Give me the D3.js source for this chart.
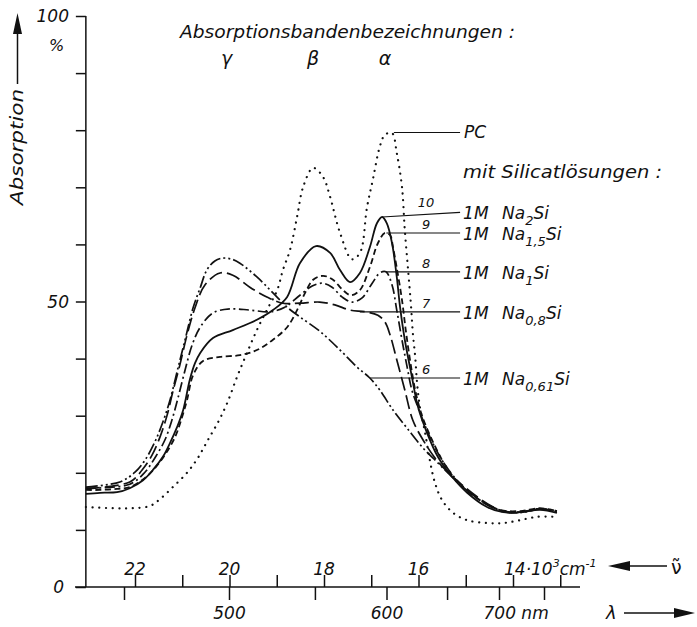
<!DOCTYPE html>
<html><head><meta charset="utf-8">
<script src="https://cdn.jsdelivr.net/npm/d3@7"></script>
<style>
html,body{margin:0;padding:0;background:#fff;}
svg{display:block;}
text{font-family:"DejaVu Sans",sans-serif;font-style:italic;fill:#111;}
</style></head><body>
<svg id="c" width="697" height="627"></svg>
<script>
// ---------- DATA (wavenumber in 10^3 cm^-1, absorption in %) ----------
const pcData = [[23.04,14.0],[22.47,13.8],[22.06,13.8],[21.68,14.2],[21.47,15.4],[21.20,17.5],[20.90,20.0],[20.67,22.6],[20.46,25.7],[20.24,28.9],[20.05,32.2],[19.84,36.8],[19.63,41.0],[19.42,45.0],[19.21,48.5],[18.99,52.0],[18.87,55.5],[18.72,59.0],[18.57,64.8],[18.44,70.1],[18.23,73.4],[18.02,71.8],[17.87,68.3],[17.66,62.0],[17.41,57.4],[17.24,58.5],[17.09,66.5],[16.96,71.6],[16.82,77.1],[16.71,79.2],[16.56,79.5],[16.46,76.0],[16.35,70.1],[16.29,62.5],[16.22,55.5],[16.16,49.4],[16.12,44.5],[16.07,40.3],[16.03,35.7],[15.97,31.5],[15.86,27.0],[15.76,22.2],[15.65,18.2],[15.50,15.2],[15.27,13.0],[14.97,11.7],[14.55,11.2],[14.21,11.2],[13.85,11.7],[13.49,12.3],[13.15,12.3]];
const na2Data = [[23.04,16.3],[22.74,16.5],[22.38,16.6],[22.11,17.3],[21.83,18.7],[21.62,20.5],[21.41,22.8],[21.26,25.2],[21.11,28.0],[20.98,31.0],[20.84,36.3],[20.73,39.2],[20.62,41.0],[20.35,43.6],[19.93,45.0],[19.42,46.8],[19.08,48.5],[18.78,50.8],[18.51,56.7],[18.17,59.7],[17.87,58.5],[17.66,55.5],[17.45,53.4],[17.24,55.0],[17.03,59.5],[16.88,63.7],[16.77,64.8],[16.67,63.7],[16.56,60.2],[16.46,54.3],[16.39,49.0],[16.29,43.3],[16.14,36.8],[16.01,31.5],[15.82,27.0],[15.59,22.8],[15.29,19.3],[14.97,16.5],[14.55,14.0],[14.21,13.1],[13.85,13.1],[13.43,13.5],[13.07,13.0]];
const na15Data = [[23.04,17.0],[22.74,17.0],[22.38,17.2],[22.11,17.5],[21.79,19.1],[21.58,20.8],[21.37,23.1],[21.15,26.3],[21.01,29.6],[20.90,32.7],[20.77,37.1],[20.56,39.6],[20.20,40.3],[19.78,40.6],[19.42,41.5],[19.08,43.3],[18.78,45.5],[18.57,48.5],[18.40,51.5],[18.23,53.8],[18.02,54.5],[17.81,53.8],[17.60,52.0],[17.43,51.1],[17.24,52.0],[17.03,56.0],[16.86,60.2],[16.71,62.0],[16.60,61.6],[16.54,59.5],[16.46,55.9],[16.35,50.3],[16.27,45.0],[16.18,39.8],[16.07,34.5],[15.93,30.1],[15.71,25.7],[15.44,21.4],[15.12,17.9],[14.70,15.2],[14.28,13.5],[13.85,13.3],[13.43,13.8],[13.07,13.3]];
const na1Data = [[23.04,17.3],[22.11,18.0],[21.79,20.1],[21.58,22.6],[21.37,25.7],[21.22,29.2],[21.09,33.1],[20.94,38.0],[20.79,42.4],[20.62,45.5],[20.35,48.0],[19.99,48.7],[19.57,48.5],[19.14,48.2],[18.83,49.0],[18.51,51.1],[18.25,52.7],[18.04,53.2],[17.83,52.5],[17.62,50.8],[17.41,49.9],[17.20,50.6],[16.98,53.2],[16.82,55.0],[16.69,55.2],[16.56,52.9],[16.46,48.5],[16.35,43.3],[16.24,38.5],[16.14,34.5],[15.97,30.6],[15.76,26.3],[15.50,22.2],[15.23,19.1],[14.91,16.5],[14.55,14.5],[14.21,13.3],[13.85,13.1],[13.43,13.7],[13.07,13.1]];
const na08Data = [[23.04,17.2],[22.11,18.4],[21.85,20.5],[21.64,23.1],[21.47,26.3],[21.32,30.1],[21.20,34.2],[21.05,38.9],[20.90,44.1],[20.73,48.9],[20.52,52.9],[20.20,55.0],[19.93,54.6],[19.57,52.5],[19.21,50.8],[18.87,49.7],[18.51,49.7],[18.09,49.9],[17.77,49.4],[17.45,48.5],[17.13,48.2],[16.86,47.6],[16.71,46.4],[16.60,44.1],[16.46,39.8],[16.29,34.5],[16.12,29.2],[15.90,25.7],[15.65,22.6],[15.38,20.1],[15.08,17.9],[14.76,15.8],[14.42,14.0],[14.13,13.1],[13.85,13.1],[13.43,13.7],[13.07,13.3]];
const na061Data = [[23.04,17.5],[22.32,18.4],[22.00,20.1],[21.79,22.2],[21.58,25.4],[21.41,28.9],[21.26,32.7],[21.11,37.7],[20.94,43.3],[20.77,48.9],[20.62,52.4],[20.48,55.5],[20.31,57.1],[20.14,57.6],[19.95,57.4],[19.78,56.7],[19.42,54.3],[19.08,51.5],[18.78,49.0],[18.51,47.3],[18.09,44.8],[17.66,41.5],[17.30,38.5],[17.03,36.6],[16.82,34.5],[16.54,31.0],[16.24,27.8],[15.90,24.3],[15.61,21.9],[15.33,19.6],[15.06,17.5],[14.70,15.2],[14.34,13.5],[14.06,13.0],[13.75,13.1],[13.43,13.7],[13.07,13.3]];

const seriesData  = [pcData, na2Data, na15Data, na1Data, na08Data, na061Data];
const curveNumbers = ["", "10", "9", "8", "7", "6"];
const labelSub    = ["", "2", "1,5", "1", "0,8", "0,61"];
// leader anchors: [wavenumber, %] on the curve, and % level of label
const leaderStart = [[16.52,79.6],[16.77,64.8],[16.68,62.0],[16.69,55.2],[17.24,48.2],[17.03,36.6]];
const leaderLevel = [79.6, 65.6, 62.0, 55.2, 48.2, 36.6];

const yTicks = d3.range(0, 101, 10);
const yLabels = [0, 50, 100];
const wnTicks = d3.range(22, 12.9, -1);
const wnLabels = [22, 20, 18, 16];
const nmTicks = [450, 500, 550, 600, 650, 700, 750];
const nmLabels = [500, 600];

// ---------- CHART ----------
const svg = d3.select("#c");
const x = d3.scaleLinear().domain([22, 14]).range([135, 513]);
const y = d3.scaleLinear().domain([0, 100]).range([587, 16]);
const ink = "#111";
const yAxisX = x(23.04);
const xAxisL = 75, xAxisR = 580;

// y axis
const ya = svg.append("g").attr("transform", `translate(${yAxisX},0)`)
  .call(d3.axisLeft(y).tickValues(yTicks).tickSize(10).tickSizeOuter(0).tickFormat(""));
ya.selectAll("path,line").attr("stroke", ink).attr("stroke-width", 1.5);
ya.select(".domain").attr("d", `M0,${y(100)}V${y(0)}`);
svg.selectAll(".ylab").data(yLabels).join("text")
  .attr("x", d => d === 0 ? 64 : 69).attr("y", d => y(d) + 6)
  .attr("text-anchor", "end").attr("font-size", 17).text(d => d);
svg.append("text").attr("x", 49).attr("y", 51).attr("font-size", 16).text("%");

// y axis title with arrow
svg.append("text").attr("transform", `translate(23,205) rotate(-90)`)
  .attr("font-size", 17).attr("textLength", 116).attr("lengthAdjust", "spacingAndGlyphs").text("Absorption");
svg.append("line").attr("x1", 17.5).attr("x2", 17.5).attr("y1", 84).attr("y2", 28).attr("stroke", ink).attr("stroke-width", 1.5);
svg.append("path").attr("d", "M17.5,13 L13,34 L22,34 Z").attr("fill", ink);

// x axis baseline
svg.append("line").attr("x1", xAxisL).attr("x2", xAxisR).attr("y1", y(0)).attr("y2", y(0))
  .attr("stroke", ink).attr("stroke-width", 1.5);
// wavenumber ticks (up)
const xa = svg.append("g").attr("transform", `translate(0,${y(0)})`)
  .call(d3.axisTop(x).tickValues(wnTicks).tickSize(12).tickSizeOuter(0).tickFormat(""));
xa.select(".domain").remove();
xa.selectAll("line").attr("stroke", ink).attr("stroke-width", 1.5);
svg.selectAll(".wnlab").data(wnLabels).join("text")
  .attr("x", d => x(d)).attr("y", 575).attr("text-anchor", "middle").attr("font-size", 17).text(d => d);
const t14 = svg.append("text").attr("x", x(14) - 9).attr("y", 575).attr("font-size", 17);
t14.append("tspan").text("14·10");
t14.append("tspan").attr("font-size", 11).attr("dy", -8).text("3");
t14.append("tspan").attr("dy", 8).text("cm");
t14.append("tspan").attr("font-size", 11).attr("dy", -8).text("-1");
// nu arrow
svg.append("path").attr("d", "M608,566 L630,561 L630,571 Z").attr("fill", ink);
svg.append("line").attr("x1", 628).attr("x2", 667).attr("y1", 566).attr("y2", 566).attr("stroke", ink).attr("stroke-width", 1.5);
svg.append("text").attr("x", 671).attr("y", 574).attr("font-size", 19).style("font-style", "normal").text("ν\u0303");

// wavelength ticks (down)
svg.selectAll(".nmtick").data(nmTicks).join("line")
  .attr("x1", d => x(1e4 / d)).attr("x2", d => x(1e4 / d))
  .attr("y1", y(0)).attr("y2", y(0) + 13).attr("stroke", ink).attr("stroke-width", 1.5);
svg.selectAll(".nmlab").data(nmLabels).join("text")
  .attr("x", d => x(1e4 / d)).attr("y", 619).attr("text-anchor", "middle").attr("font-size", 17).text(d => d);
svg.append("text").attr("x", x(1e4 / 700) - 16).attr("y", 619).attr("font-size", 17).text("700 nm");
svg.append("text").attr("x", 606).attr("y", 619).attr("font-size", 18).text("λ");
svg.append("line").attr("x1", 624).attr("x2", 676).attr("y1", 613).attr("y2", 613).attr("stroke", ink).attr("stroke-width", 1.5);
svg.append("path").attr("d", "M695,613 L674,608 L674,618 Z").attr("fill", ink);

// title and band names
svg.append("text").attr("x", 180).attr("y", 38).attr("font-size", 17)
  .attr("textLength", 335).attr("lengthAdjust", "spacingAndGlyphs").text("Absorptionsbandenbezeichnungen :");
const bands = [["γ", 20.06], ["β", 18.23], ["α", 16.71]];
svg.selectAll(".band").data(bands).join("text")
  .attr("x", d => x(d[1])).attr("y", 65).attr("text-anchor", "middle").attr("font-size", 19).text(d => d[0]);

// curves
const styles = [
  {dash: "0.1,6.6", w: 2.2, cap: "round"},
  {dash: null, w: 1.8, cap: "butt"},
  {dash: "6,3.5", w: 1.8, cap: "butt"},
  {dash: "10,3.5,2,3.5", w: 1.7, cap: "butt"},
  {dash: "14,5", w: 1.7, cap: "butt"},
  {dash: "12,3,2,3,2,3", w: 1.7, cap: "butt"}
];
const line = d3.line().x(d => x(d[0])).y(d => y(d[1])).curve(d3.curveCatmullRom.alpha(0.5));
svg.selectAll(".curve").data(seriesData).join("path")
  .attr("d", d => line(d)).attr("fill", "none").attr("stroke", ink)
  .attr("stroke-width", (d, i) => styles[i].w)
  .attr("stroke-dasharray", (d, i) => styles[i].dash)
  .attr("stroke-linecap", (d, i) => styles[i].cap);

// leaders and labels
const leaderEndK = 15.12;
svg.selectAll(".leader").data(leaderStart).join("line")
  .attr("x1", d => x(d[0])).attr("y1", d => y(d[1]))
  .attr("x2", x(leaderEndK)).attr("y2", (d, i) => y(leaderLevel[i]))
  .attr("stroke", ink).attr("stroke-width", 1.2);
svg.selectAll(".num").data(curveNumbers.slice(1)).join("text")
  .attr("x", x(15.84)).attr("y", (d, i) => y(leaderLevel[i + 1]) - 4 + (i === 0 ? -1 : 0))
  .attr("text-anchor", "middle").attr("font-size", 13).text(d => d);

const lx = x(leaderEndK) + 4;
svg.append("text").attr("x", lx).attr("y", y(leaderLevel[0]) + 6).attr("font-size", 17).text("PC");
svg.append("text").attr("x", lx - 1).attr("y", 178).attr("font-size", 17)
  .attr("textLength", 199).attr("lengthAdjust", "spacingAndGlyphs").text("mit Silicatlösungen :");
const labIdx = [1, 2, 3, 4, 5];
svg.selectAll(".m1").data(labIdx).join("text")
  .attr("x", lx - 1).attr("y", i => y(leaderLevel[i]) + 7).attr("font-size", 17).text("1M");
const nl = svg.selectAll(".na").data(labIdx).join("text")
  .attr("x", lx + 38).attr("y", i => y(leaderLevel[i]) + 7).attr("font-size", 17);
nl.append("tspan").text("Na");
nl.append("tspan").attr("font-size", 13).attr("dy", 6).text(i => labelSub[i]);
nl.append("tspan").attr("dy", -6).text("Si");
</script>
</body></html>
